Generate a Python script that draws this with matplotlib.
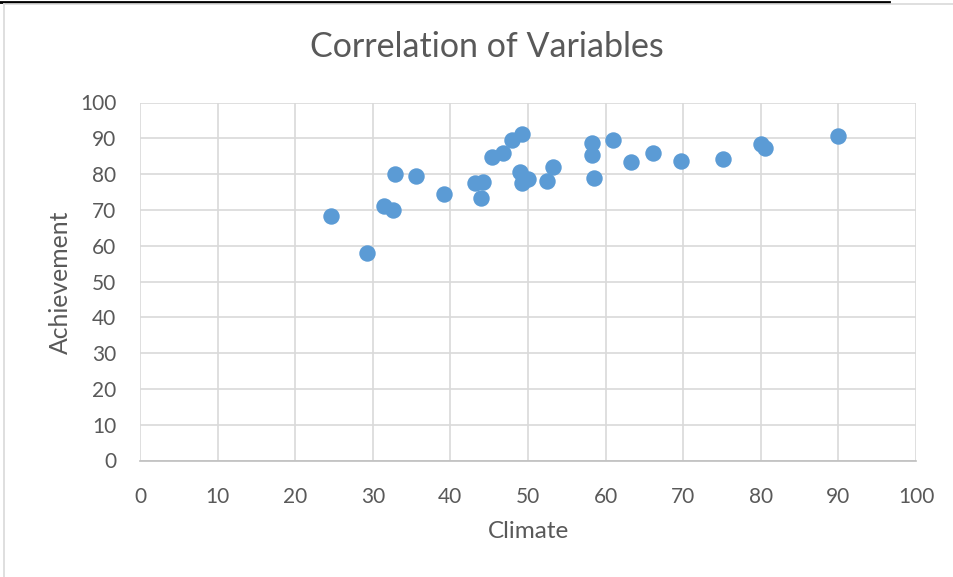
import matplotlib.pyplot as plt
from matplotlib.lines import Line2D

# values
climate = [24.6, 29.2, 31.4, 32.6, 32.8, 35.6, 39.2, 43.2, 44.2, 44.0,
           45.4, 46.8, 47.9, 49.2, 49.0, 49.2, 50.0, 52.5, 53.2, 58.3,
           58.3, 58.5, 60.9, 63.3, 66.1, 69.7, 75.1, 80.0, 80.5, 89.9]
achievement = [68.3, 58.0, 71.1, 69.9, 79.9, 79.5, 74.4, 77.4, 77.8, 73.3,
               84.8, 85.8, 89.5, 91.3, 80.5, 77.6, 78.6, 78.0, 82.0, 88.7,
               85.3, 78.8, 89.6, 83.3, 85.8, 83.7, 84.2, 88.3, 87.4, 90.7]
xticks = list(range(0, 101, 10))
yticks = list(range(0, 101, 10))

plt.rcParams['font.family'] = ['Lato', 'DejaVu Sans']
txt = '#595959'

fig = plt.figure(figsize=(9.54, 5.77), dpi=100)
ax = fig.add_axes([140/954, 1-460.5/577, 776/954, 358/577])

ax.scatter(climate, achievement, s=140, color='#5B9BD5', zorder=3, linewidths=0)

ax.set_xlim(0, 100)
ax.set_ylim(0, 100)
ax.set_xticks(xticks)
ax.set_yticks(yticks)
ax.grid(True, color='#d9d9d9', linewidth=1.2)
ax.set_axisbelow(True)
for s in ['top', 'right', 'left']:
    ax.spines[s].set_visible(False)
ax.spines['bottom'].set_color('#bfbfbf')
ax.spines['bottom'].set_linewidth(1.2)
ax.tick_params(length=0, labelsize=15, labelcolor=txt)
ax.tick_params(axis='y', pad=17)
ax.tick_params(axis='x', pad=19)

fig.text(487/954, 1-47/577, 'Correlation of Variables', ha='center', va='center',
         fontsize=24.5, color=txt)
fig.text(529/954, 1-532/577, 'Climate', ha='center', va='center', fontsize=17.5, color=txt)
fig.text(60/954, 1-282/577, 'Achievement', ha='center', va='center', rotation=90,
         fontsize=17.8, color=txt)

# page/frame edges seen in the screenshot
fig.add_artist(Line2D([0, 889/954], [1-1.5/577, 1-1.5/577], color='black', lw=2))
fig.add_artist(Line2D([4/954, 1], [1-4/577, 1-4/577], color='#d9d9d9', lw=1.2))
fig.add_artist(Line2D([4/954, 4/954], [0, 1-4/577], color='#d9d9d9', lw=1.2))

fig.savefig('out.png', dpi=100)
